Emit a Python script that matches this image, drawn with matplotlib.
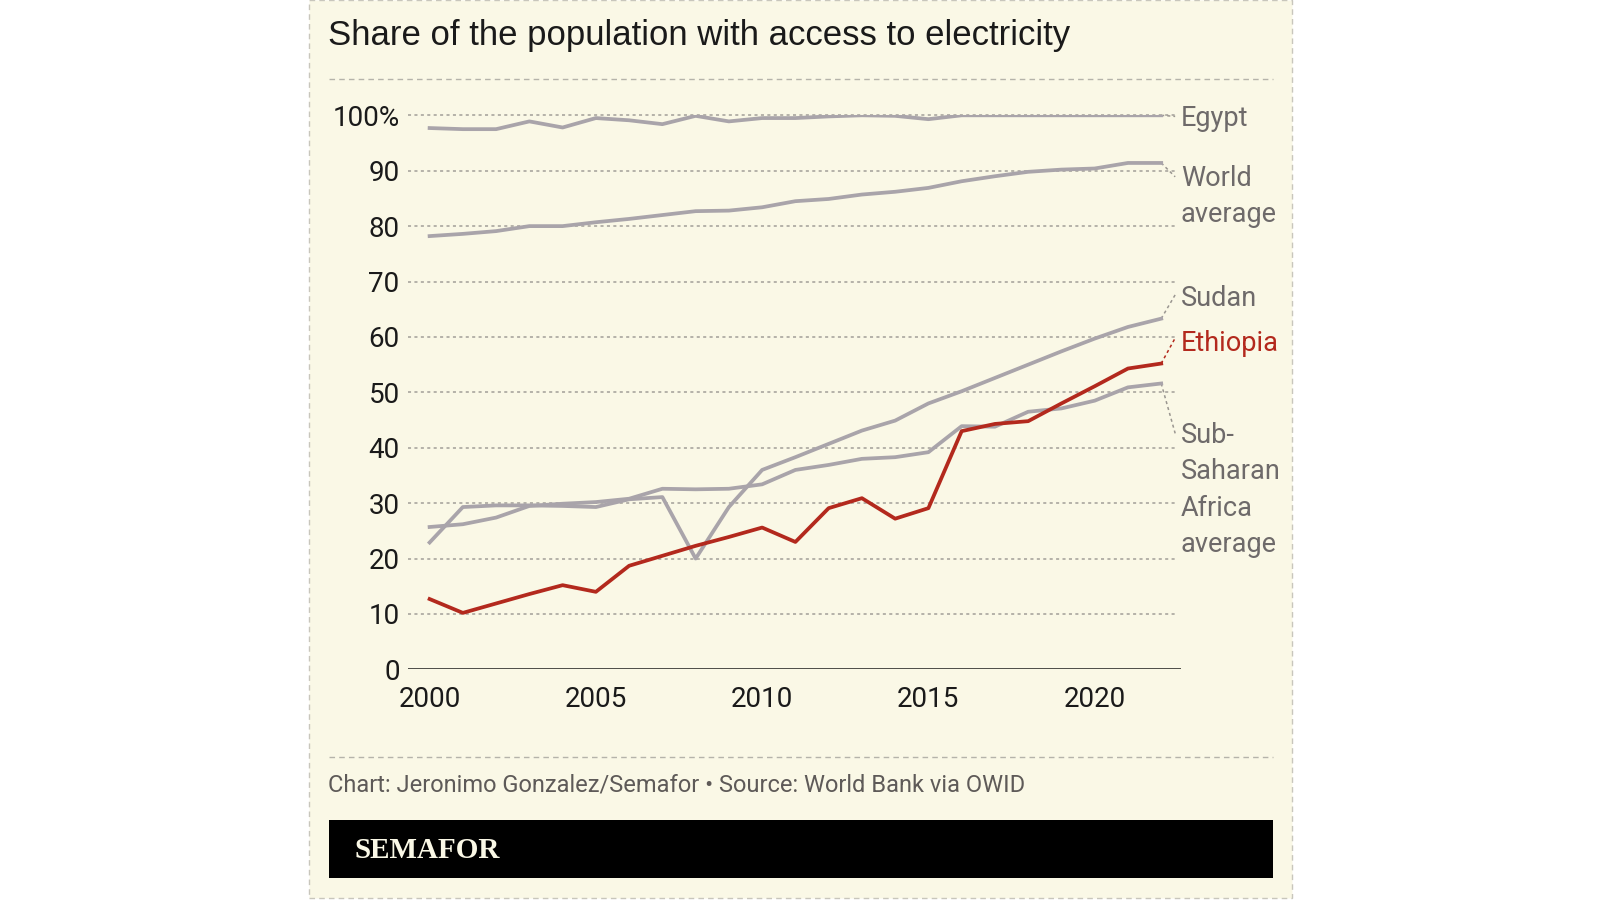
import matplotlib.pyplot as plt
from matplotlib.patches import Rectangle
from matplotlib.lines import Line2D

years = list(range(2000, 2023))

egypt = [97.7, 97.5, 97.5, 98.9, 97.8, 99.5, 99.1, 98.4, 99.9, 98.9, 99.5, 99.5,
         99.8, 100, 99.9, 99.3, 100, 100, 100, 100, 100, 100, 100]
world = [78.2, 78.6, 79.1, 80.0, 80.0, 80.7, 81.3, 82.0, 82.7, 82.8, 83.4, 84.5,
         84.9, 85.7, 86.2, 86.9, 88.1, 89.0, 89.8, 90.2, 90.4, 91.4, 91.4]
sudan = [22.9, 29.3, 29.6, 29.6, 29.5, 29.3, 30.7, 31.1, 20.0, 29.3, 36.0, 38.3,
         40.7, 43.1, 44.9, 48.0, 50.2, 52.6, 55.0, 57.4, 59.7, 61.8, 63.3]
ssa = [25.7, 26.2, 27.4, 29.5, 29.9, 30.2, 30.8, 32.6, 32.5, 32.6, 33.4, 36.0,
       36.9, 38.0, 38.3, 39.2, 43.9, 43.8, 46.5, 47.1, 48.5, 50.9, 51.6]
ethiopia = [12.7, 10.2, 11.9, 13.6, 15.2, 14.0, 18.7, 20.5, 22.3, 23.9, 25.6, 23.0,
            29.1, 30.9, 27.2, 29.1, 43.0, 44.3, 44.8, 48.0, 51.1, 54.3, 55.2]

yticks = [0, 10, 20, 30, 40, 50, 60, 70, 80, 90, 100]
ytick_labels = ["0", "10", "20", "30", "40", "50", "60", "70", "80", "90", "100%"]
xticks = [2000, 2005, 2010, 2015, 2020]

BG = "#FAF8E6"
GREY = "#A9A4AA"
RED = "#B3291D"
LABEL = "#6E6A6A"
W, H = 1600, 900

cond = ["Liberation Sans Narrow", "Roboto", "DejaVu Sans"]

fig = plt.figure(figsize=(16, 9), dpi=100)
fig.patch.set_facecolor("white")

# cream panel with dashed border
panel = Rectangle((309 / W, 1 - 898 / H), 983 / W, 898 / H,
                  transform=fig.transFigure, facecolor=BG,
                  edgecolor="#C8C6BC", linestyle=(0, (4, 3)),
                  linewidth=1, zorder=-5)
fig.patches.append(panel)

fig.text(328.5 / W, 1 - 36 / H, "Share of the population with access to electricity",
         fontsize=25, family=["Liberation Sans", "DejaVu Sans"], color="#1A1A1A",
         va="center", ha="left")

for yy in (78.6, 757):
    fig.add_artist(Line2D([328.5 / W, 1272.5 / W], [1 - yy / H, 1 - yy / H],
                          transform=fig.transFigure, color="#B5B3AA",
                          linestyle=(0, (4, 3)), linewidth=1))

fig.text(328.5 / W, 1 - 785 / H, "Chart: Jeronimo Gonzalez/Semafor \u2022 Source: World Bank via OWID",
         fontsize=17, family=cond, color="#5E5A58", va="center", ha="left")

fig.patches.append(Rectangle((328.5 / W, 1 - 877.5 / H), 944 / W, 58 / H,
                             transform=fig.transFigure, facecolor="black",
                             edgecolor="none", zorder=1))
fig.text(355 / W, 1 - 851 / H, "SEMAFOR", fontsize=21, fontweight="bold",
         family=["Liberation Serif", "DejaVu Serif"], color="#FAF8E6",
         va="center", ha="left", zorder=2)

ax = fig.add_axes([408 / W, 1 - 669.4 / H, 773 / W, 554.1 / H])
ax.set_zorder(2)
ax.patch.set_visible(False)
ax.set_xlim(2000 - 21.6 / 33.25, 2022 + 19.8 / 33.25)
ax.set_ylim(0, 100)

for v in yticks[1:]:
    ax.plot([ax.get_xlim()[0], 2022.42], [v, v], color="#A29F98",
            linestyle=(0, (2, 2.2)), linewidth=1.1, zorder=1, clip_on=False)
ax.axhline(0, color="#1A1A1A", linewidth=1.8, zorder=3)

for s in ax.spines.values():
    s.set_visible(False)

ax.plot(years, egypt, color=GREY, linewidth=2.7, zorder=4)
ax.plot(years, world, color=GREY, linewidth=2.7, zorder=4)
ax.plot(years, sudan, color=GREY, linewidth=2.7, zorder=4)
ax.plot(years, ssa, color=GREY, linewidth=2.7, zorder=4)
ax.plot(years, ethiopia, color=RED, linewidth=2.7, zorder=5)

ax.set_yticks(yticks)
ax.set_yticklabels(ytick_labels)
ax.set_xticks(xticks)
ax.set_xticklabels([str(x) for x in xticks])
ax.tick_params(axis="both", length=0, labelsize=20, colors="#1A1A1A")
ax.tick_params(axis="y", pad=6)
ax.tick_params(axis="x", pad=12)
for lab in ax.get_xticklabels() + ax.get_yticklabels():
    lab.set_family(cond)

# end labels with dashed leaders: (line end, leader target, text centre, text, colour)
label_x = 2022 + 19.8 / 33.25
ends = [
    (egypt[-1], 99.8, 99.4, "Egypt", GREY),
    (world[-1], 88.9, 85.3, "World\naverage", GREY),
    (sudan[-1], 67.6, 66.9, "Sudan", GREY),
    (ethiopia[-1], 59.8, 58.9, "Ethiopia", RED),
    (ssa[-1], 42.6, 32.4, "Sub-\nSaharan\nAfrica\naverage", GREY),
]
for v_end, v_lead, v_text, text, col in ends:
    is_red = col == RED
    ax.plot([2022, 2022.42], [v_end, v_lead], color=RED if is_red else "#9A9690",
            linestyle=(0, (2, 2)), linewidth=1.1, clip_on=False, zorder=3)
    ax.text(label_x, v_text, text, color=RED if is_red else LABEL, fontsize=19.5,
            family=cond, ha="left", va="center", linespacing=1.45, clip_on=False)

fig.savefig("out.png", dpi=100, facecolor=fig.get_facecolor())
